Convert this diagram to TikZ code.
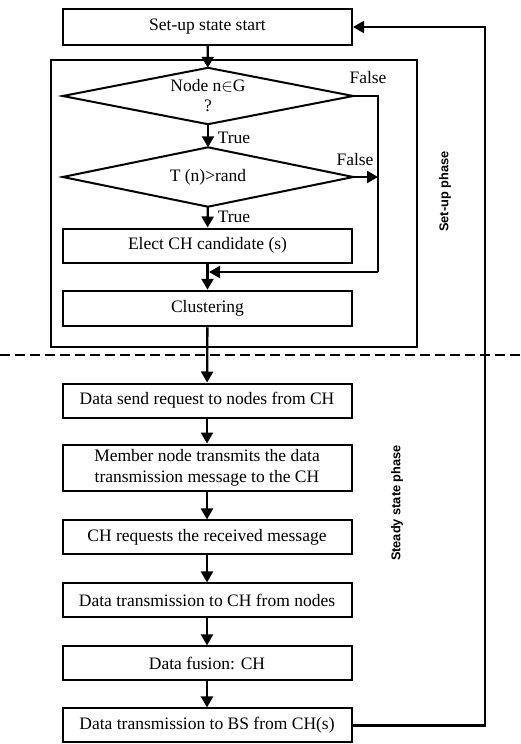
\documentclass[tikz,border=0pt]{standalone}
\usepackage{fontspec}
\setmainfont{Liberation Serif}
\newfontfamily\phasefont{Liberation Sans}
\usetikzlibrary{shapes.geometric, arrows.meta, positioning}
\tikzset{
  basebox/.style={rectangle, draw=black, line width=2pt, align=center,
                  font=\fontsize{17.5}{21}\selectfont},
  procbox/.style={basebox, minimum width=289pt, minimum height=34pt,
                  inner sep=5pt},
  framebox/.style={rectangle, draw=black, line width=2pt},
  decbox/.style={rectangle, align=center, minimum width=290pt,
                 inner sep=0pt, font=\fontsize{17.5}{20}\selectfont},
  decline/.style={draw=black, line width=2pt, line join=miter},
  lbl/.style={font=\fontsize{17.5}{20}\selectfont, inner sep=0pt},
  phaselbl/.style={font=\phasefont\bfseries\fontsize{12.8}{15}\selectfont,
                   rotate=90, inner sep=0pt},
  flowarrow/.style={-{Triangle[length=11pt,width=12pt]}, line width=2.3pt},
  flowline/.style={line width=2.3pt},
  phaseline/.style={line width=2.6pt, dash pattern=on 10pt off 5pt}
}
\begin{document}
\begin{tikzpicture}[x=1pt, y=-1pt, node distance=27pt]
  \useasboundingbox (0,0) rectangle (521,744);

  % set-up phase
  \node[framebox, minimum width=366pt, minimum height=287pt] (frame) at (234,203.5) {};
  \node[procbox, minimum height=36.5pt] (setup) at (207.5,27) {Set-up state start};
  \node[decbox, minimum height=56pt] (nodeq) at (208,96) {Node n$\in$G\\?};
  \node[decbox, minimum height=59pt] (tq) at (208,177) {T (n)>rand};
  \node[procbox] (elect) at (207.5,245.5) {Elect CH candidate (s)};
  \node[procbox, minimum height=35.5pt] (cluster) at (207.5,308.5) {Clustering};

  % diamond outlines
  \foreach \d in {nodeq, tq}
    \draw[decline] (\d.west) -- (\d.north) -- (\d.east) -- (\d.south) -- cycle;

  \node[lbl] (true1) at (234,138) {True};
  \node[lbl] (true2) at (234,217) {True};
  \node[lbl] (false1) at (368,78) {False};
  \node[lbl] (false2) at (355,160) {False};

  \coordinate (falsecol) at (378,272);
  \coordinate (merge) at (209,272);

  % steady state phase
  \node[procbox] (request) at (207,400.5) {Data send request to nodes from CH};
  \node[procbox, below=25pt of request] (member)
      {Member node transmits the data\\transmission message to the CH};
  \node[procbox, below=27pt of member] (ask) {CH requests the received message};
  \node[procbox, below=27pt of ask] (toch) {Data transmission to CH from nodes};
  \node[procbox, below=27pt of toch] (fusion) {Data fusion: CH};
  \node[procbox, below=26pt of fusion] (tobs) {Data transmission to BS from CH(s)};

  \node[phaselbl] (setuplbl) at (445,191.5) {Set-up phase};
  \node[phaselbl] (steadylbl) at (397,503) {Steady state phase};

  \coordinate (dashl) at (0,355);
  \coordinate (dashr) at (521,355);
  \coordinate (loop) at (485,0);
  \draw[phaseline] (dashl) -- (dashr);

  \draw[flowarrow] (setup) -- (nodeq);
  \draw[flowarrow] (nodeq) -- (tq);
  \draw[flowarrow] (tq) -- (elect);
  \draw[flowarrow] (elect) -- (cluster);
  \draw[flowline] (nodeq.east) -| (falsecol);
  \draw[flowarrow] (falsecol) -- (merge);
  \draw[flowarrow] (tq.east) -- (tq.east -| falsecol);
  \draw[flowarrow] (cluster) -- (request);

  \foreach \from/\to in {request/member, member/ask, ask/toch, toch/fusion, fusion/tobs}
    \draw[flowarrow] (\from) -- (\to);

  \draw[flowarrow] (tobs.east) -- (tobs.east -| loop) -- (setup.east -| loop) -- (setup.east);
\end{tikzpicture}
\end{document}
